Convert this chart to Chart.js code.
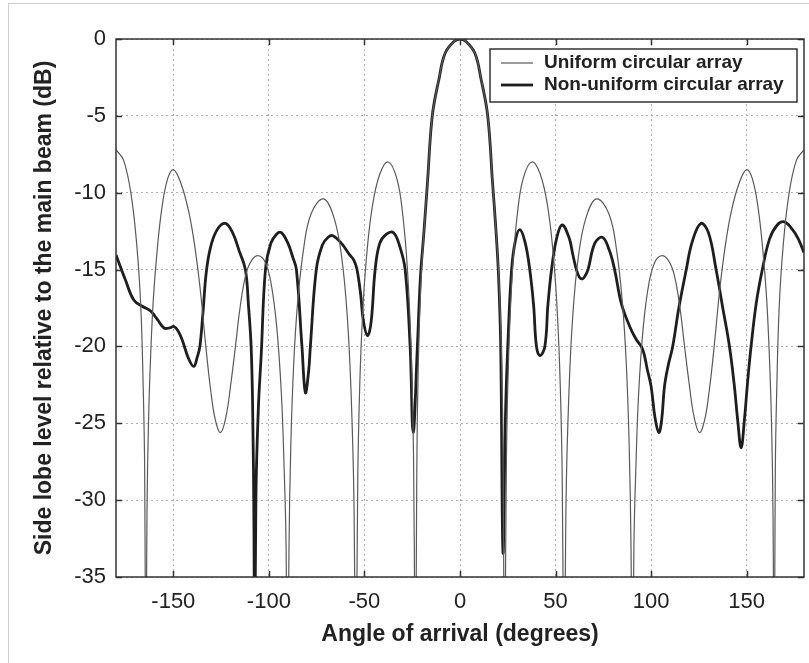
<!DOCTYPE html>
<html>
<head>
<meta charset="utf-8">
<title>Side lobe level</title>
<script src="https://cdn.jsdelivr.net/npm/chart.js@4.4.1/dist/chart.umd.min.js"></script>
<style>
  html, body { margin: 0; padding: 0; background: #fff; overflow: hidden; }
  #frame { position: absolute; left: 8px; top: 3px; width: 900px; height: 800px; border: 1px solid #cfcfcf; }
  #chart { position: absolute; left: 0; top: 0; }
</style>
</head>
<body>
<div id="frame"></div>
<canvas id="chart" width="809" height="663"></canvas>
<script>
// ───────────────
// Data: [angle (deg), level (dB)]
const xTicks = [-150, -100, -50, 0, 50, 100, 150];
const yTicks = [0, -5, -10, -15, -20, -25, -30, -35];

const uniformPattern = [
  [-180, -7.2], [-176, -7.9], [-172, -10.2], [-169, -13.6], [-167, -17.5], [-165.8, -22.5],
  [-165, -28], [-164.4, -45], [-163.8, -31], [-163, -25], [-162, -21], [-160.5, -17],
  [-158.5, -13.8], [-156, -11], [-153, -9.1], [-150, -8.5], [-146, -9.4], [-142, -11.2],
  [-139, -13.3], [-136, -16.2], [-133, -20], [-130.5, -22.8], [-128, -24.8], [-125.3, -25.6],
  [-122.5, -24.6], [-120, -22.5], [-117.5, -20], [-115, -17.4], [-112, -15.3], [-109, -14.4],
  [-105.5, -14.1], [-102, -14.5], [-99, -15.8], [-96, -18.6], [-93.5, -23], [-92, -28],
  [-91, -33], [-90.3, -45], [-89.5, -33.3], [-88.5, -26.3], [-87, -21.1], [-85, -17.2],
  [-82, -13.8], [-78, -11.4], [-71.5, -10.4], [-66, -11.6], [-62, -14.1], [-59, -18],
  [-57, -23], [-55.5, -30], [-54.5, -45], [-53.5, -28.7], [-52.5, -22.7], [-51, -18],
  [-49, -14.3], [-46, -11], [-42, -8.8], [-37.5, -8], [-33, -9.1], [-30, -11.4],
  [-27.5, -15], [-25.5, -20.4], [-24.3, -27.2], [-23.3, -45], [-22.6, -28], [-21.8, -21],
  [-20.5, -16], [-18.9, -12.6], [-17, -9.3], [-14.5, -5], [-11, -2.6], [-7.8, -0.93],
  [-3, -0.15], [0, 0],
  [3, -0.15], [7.8, -0.93], [11, -2.6], [14.5, -5], [17, -9.3], [18.9, -12.6], [20.5, -16],
  [21.8, -21], [22.6, -28], [23.3, -45], [24.3, -27.2], [25.5, -20.4], [27.5, -15], [30, -11.4],
  [33, -9.1], [37.5, -8], [42, -8.8], [46, -11], [49, -14.3], [51, -18], [52.5, -22.7],
  [53.5, -28.7], [54.5, -45], [55.5, -30], [57, -23], [59, -18], [62, -14.1], [66, -11.6],
  [71.5, -10.4], [78, -11.4], [82, -13.8], [85, -17.2], [87, -21.1], [88.5, -26.3],
  [89.5, -33.3], [90.3, -45], [91, -33], [92, -28], [93.5, -23], [96, -18.6], [99, -15.8],
  [102, -14.5], [105.5, -14.1], [109, -14.4], [112, -15.3], [115, -17.4], [117.5, -20],
  [120, -22.5], [122.5, -24.6], [125.3, -25.6], [128, -24.8], [130.5, -22.8], [133, -20],
  [136, -16.2], [139, -13.3], [142, -11.2], [146, -9.4], [150, -8.5], [153, -9.1],
  [156, -11], [158.5, -13.8], [160.5, -17], [162, -21], [163, -25], [163.8, -31],
  [164.4, -45], [165, -28], [165.8, -22.5], [167, -17.5], [169, -13.6], [172, -10.2],
  [176, -7.9], [180, -7.2]
];

const nonUniformPattern = [
  [-180, -14.05], [-175, -15.7], [-170.6, -17], [-166, -17.4], [-161.9, -17.7], [-158, -18.3],
  [-154.9, -18.8], [-152, -18.8], [-149.7, -18.7], [-147.5, -19], [-145.3, -19.6], [-142, -20.8],
  [-139.3, -21.3], [-137.5, -20.7], [-136.1, -20], [-134.5, -17.8], [-132.6, -15], [-130, -13.3],
  [-126.5, -12.3], [-122.7, -12], [-119, -12.6], [-115.5, -13.8], [-112.3, -15], [-110.7, -17.3],
  [-109.3, -20], [-108.5, -24], [-107.8, -32], [-107.4, -45], [-106.8, -30], [-105.5, -24],
  [-104, -20.5], [-101.8, -15], [-99, -13.3], [-96, -12.7], [-93.5, -12.6], [-90, -13.3],
  [-87.5, -14.2], [-85.6, -15], [-82.7, -20], [-80.9, -23], [-79.2, -21.6], [-78.3, -20],
  [-75.2, -15], [-72, -13.4], [-69, -12.9], [-66.5, -12.8], [-62, -13.3], [-58, -14],
  [-55.5, -14.4], [-53.9, -15], [-52, -16.6], [-50.6, -18.3], [-48.4, -19.3], [-46.5, -18.4],
  [-44.4, -15], [-42, -13.3], [-38.5, -12.7], [-34.8, -12.6], [-31.5, -13.5], [-28.7, -15],
  [-26.1, -20], [-24.5, -25.6], [-22.3, -20], [-20.7, -15.5], [-18.9, -12.6], [-17, -9.3],
  [-14.5, -5], [-11, -2.6], [-7.8, -0.93], [-3, -0.15], [0, 0], [3, -0.15], [7.8, -0.93],
  [11, -2.6], [14.5, -5], [17, -9.3], [18.9, -12.6], [20.2, -15.5], [21.3, -20], [22.5, -33.4],
  [23.8, -24.5], [25, -20], [27, -15], [29, -13.1], [31.3, -12.4], [34, -13.2], [36.5, -15],
  [38.5, -17.3], [40, -20], [41.8, -20.6], [44.4, -20], [46, -17.3], [47.9, -15], [50.5, -13],
  [53.4, -12.1], [57, -12.9], [59, -14], [60.9, -15], [62.5, -15.5], [64.1, -15.6],
  [65.5, -15.4], [67, -15], [70.5, -13.3], [74.5, -12.9], [78, -13.7], [80.9, -15],
  [84.4, -17.2], [88.8, -18.7], [92, -19.5], [95.6, -20.2], [98, -21.5], [100, -22.6],
  [102, -24.6], [104, -25.6], [105.5, -24.8], [107, -22.6], [109, -21.2], [111.3, -20],
  [114.5, -17.5], [118.4, -15], [121.5, -13.2], [126, -12], [130, -12.6], [134, -15],
  [137.5, -17.5], [141, -20], [143.5, -22.5], [145.3, -24.8], [147.1, -26.6], [148.8, -24.8],
  [150.5, -22.3], [152.3, -20], [155, -17.2], [158.2, -15], [162, -13], [166, -12.1],
  [169.7, -11.9], [174, -12.4], [177, -13], [180, -13.9]
];

const FONT = '"Liberation Sans", Arial, Helvetica, sans-serif';
const INK = '#222';

// ───────────────
// Box round the plot plus inward ticks on all four sides
const frameTicks = {
  id: 'frameTicks',
  afterDatasetsDraw(chart) {
    const { ctx, chartArea: a, scales: { x, y } } = chart;
    ctx.save();
    ctx.strokeStyle = '#333';
    ctx.lineWidth = 1.5;
    ctx.beginPath();
    xTicks.forEach(v => {
      const px = Math.round(x.getPixelForValue(v)) + 0.5;
      ctx.moveTo(px, a.bottom); ctx.lineTo(px, a.bottom - 6);
      ctx.moveTo(px, a.top);    ctx.lineTo(px, a.top + 6);
    });
    yTicks.forEach(v => {
      const py = Math.round(y.getPixelForValue(v)) + 0.5;
      ctx.moveTo(a.left, py);  ctx.lineTo(a.left + 6, py);
      ctx.moveTo(a.right, py); ctx.lineTo(a.right - 6, py);
    });
    ctx.stroke();
    ctx.strokeRect(a.left, a.top, a.right - a.left, a.bottom - a.top);
    ctx.restore();
  }
};

// Legend box in the top-right corner of the plot
const boxLegend = {
  id: 'boxLegend',
  afterDraw(chart) {
    const { ctx } = chart;
    const left = 490, top = 49, w = 307, h = 53;
    ctx.save();
    ctx.fillStyle = '#fff';
    ctx.fillRect(left, top, w, h);
    ctx.strokeStyle = '#333';
    ctx.lineWidth = 1.5;
    ctx.strokeRect(left, top, w, h);
    ctx.font = 'bold 19px ' + FONT;
    ctx.textBaseline = 'middle';
    chart.data.datasets.forEach((ds, i) => {
      const cy = top + 14 + i * 22;
      ctx.strokeStyle = ds.borderColor;
      ctx.lineWidth = ds.borderWidth;
      ctx.beginPath();
      ctx.moveTo(left + 11, cy);
      ctx.lineTo(left + 43, cy);
      ctx.stroke();
      ctx.fillStyle = INK;
      ctx.fillText(ds.label, left + 54, cy);
    });
    ctx.restore();
  }
};

const toPoints = arr => arr.map(([a, v]) => ({ x: a, y: v }));

new Chart(document.getElementById('chart'), {
  type: 'line',
  data: {
    datasets: [
      {
        label: 'Uniform circular array',
        data: toPoints(uniformPattern),
        borderColor: '#5a5a5a',
        borderWidth: 1.2,
        pointRadius: 0,
        tension: 0.4
      },
      {
        label: 'Non-uniform circular array',
        data: toPoints(nonUniformPattern),
        borderColor: '#1e1e1e',
        borderWidth: 2.8,
        pointRadius: 0,
        tension: 0.4
      }
    ]
  },
  options: {
    responsive: false,
    animation: false,
    events: [],
    layout: { padding: { top: 39, right: 5, bottom: 0, left: 0 } },
    plugins: { legend: { display: false }, tooltip: { enabled: false } },
    scales: {
      x: {
        type: 'linear',
        min: -180,
        max: 180,
        afterBuildTicks: s => { s.ticks = xTicks.map(v => ({ value: v })); },
        afterFit: s => { s.height = 86; },
        grid: { color: '#b0b0b0', lineWidth: 1, drawTicks: false },
        border: { display: false, dash: [2, 3] },
        ticks: { color: INK, padding: 12, maxRotation: 0, font: { family: FONT, size: 22 } },
        title: {
          display: true,
          text: 'Angle of arrival (degrees)',
          color: INK,
          padding: { top: 0, bottom: 15 },
          font: { family: FONT, size: 23, weight: 'bold' }
        }
      },
      y: {
        type: 'linear',
        min: -35,
        max: 0,
        afterBuildTicks: s => { s.ticks = yTicks.map(v => ({ value: v })); },
        afterFit: s => { s.width = 116; },
        grid: { color: '#b0b0b0', lineWidth: 1, drawTicks: false },
        border: { display: false, dash: [2, 3] },
        ticks: { color: INK, padding: 10, font: { family: FONT, size: 22 } },
        title: {
          display: true,
          text: 'Side lobe level relative to the main beam (dB)',
          color: INK,
          padding: { top: 31, bottom: 0 },
          font: { family: FONT, size: 23, weight: 'bold' }
        }
      }
    }
  },
  plugins: [frameTicks, boxLegend]
});
</script>
</body>
</html>
